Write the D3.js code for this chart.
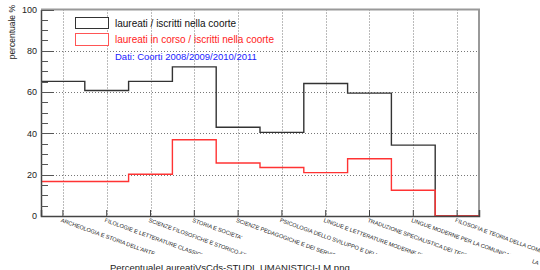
<!DOCTYPE html>
<html><head><meta charset="utf-8">
<script src="https://cdn.jsdelivr.net/npm/d3@7/dist/d3.min.js"></script>
<style>body{margin:0;background:#fff}svg{display:block;font-family:"Liberation Sans",Arial,sans-serif}</style>
</head><body>
<svg id="c" width="540" height="270"></svg>
<script>
const categories = [
  "ARCHEOLOGIA E STORIA DELL'ARTE",
  "FILOLOGIE E LETTERATURE CLASSICHE E MODERNE",
  "SCIENZE FILOSOFICHE E STORICO-FILOSOFICHE",
  "STORIA E SOCIETA'",
  "SCIENZE PEDAGOGICHE E DEI SERVIZI EDUCATIVI",
  "PSICOLOGIA DELLO SVILUPPO E DELL'EDUCAZIONE",
  "LINGUE E LETTERATURE MODERNE EUROPEE E AMERICANE",
  "TRADUZIONE SPECIALISTICA DEI TESTI",
  "LINGUE MODERNE PER LA COMUNICAZIONE INTERNAZIONALE",
  "FILOSOFIA E TEORIA DELLA COMUNICAZIONE"
];
const laureati = [65.2, 60.8, 65.2, 72.2, 43.0, 40.5, 64.2, 59.5, 34.3, 0];
const laureatiInCorso = [16.7, 16.7, 20.2, 36.9, 25.7, 23.5, 21.0, 27.7, 12.5, 0];
const yTicks = [0, 20, 40, 60, 80, 100];
const seriesNames = ["laureati / iscritti nella coorte", "laureati in corso / iscritti nella coorte"];
const infoText = "Dati: Coorti 2008/2009/2010/2011";
const yTitle = "percentuale %";
const fileTitle = "PercentualeLaureatiVsCds-STUDI_UMANISTICI-LM.png";

const svg = d3.select("#c");
const L = 41, R = 479, T = 9.5, B = 216;
const x = d3.scaleBand().domain(categories).range([L, R]).padding(0);
const y = d3.scaleLinear().domain([0, 100]).range([B, T]);

// grid
const grid = svg.append("g").attr("stroke", "#777").attr("stroke-width", 1).attr("stroke-dasharray", "1,2");
grid.selectAll("line.v").data(categories).join("line")
  .attr("x1", d => Math.round(x(d) + x.bandwidth() / 2) + 0.5).attr("x2", d => Math.round(x(d) + x.bandwidth() / 2) + 0.5)
  .attr("y1", T).attr("y2", B);
grid.selectAll("line.h").data(yTicks.filter(t => t > 0 && t < 100)).join("line")
  .attr("x1", L).attr("x2", R)
  .attr("y1", d => Math.round(y(d)) + 0.5).attr("y2", d => Math.round(y(d)) + 0.5);

// frame top/right
svg.append("line").attr("x1", L).attr("x2", R + 1).attr("y1", T).attr("y2", T).attr("stroke", "#999").attr("stroke-width", 2);
svg.append("line").attr("x1", R).attr("x2", R).attr("y1", T).attr("y2", B).attr("stroke", "#999").attr("stroke-width", 2);

// histogram step lines
function stepPts(vals) {
  const pts = categories.map((c, i) => [x(c), vals[i]]);
  pts.push([x(categories[categories.length - 1]) + x.bandwidth(), vals[vals.length - 1]]);
  return pts;
}
const line = d3.line().x(d => d[0]).y(d => y(d[1])).curve(d3.curveStepAfter);
svg.append("path").attr("d", line(stepPts(laureati))).attr("fill", "none").attr("stroke", "#333").attr("stroke-width", 1.4);
svg.append("path").attr("d", line(stepPts(laureatiInCorso))).attr("fill", "none").attr("stroke", "#ff3333").attr("stroke-width", 1.4);

// y axis (ticks inward)
const yAxis = svg.append("g").attr("transform", `translate(${L},0)`)
  .call(d3.axisLeft(y).tickValues(yTicks).tickSize(0).tickPadding(4).tickFormat(d3.format("d")));
yAxis.select(".domain").attr("stroke", "#444").attr("stroke-width", 1.5);
yAxis.selectAll("text").attr("font-size", 9).attr("fill", "#222").attr("font-family", "Liberation Sans, Arial, sans-serif");
const minor = d3.range(0, 101, 5);
svg.append("g").selectAll("line").data(minor).join("line")
  .attr("x1", L).attr("x2", d => L + (d % 20 === 0 ? 13 : 7))
  .attr("y1", d => Math.round(y(d)) + 0.5).attr("y2", d => Math.round(y(d)) + 0.5)
  .attr("stroke", "#555").attr("stroke-width", 1);

// x axis
const xAxis = svg.append("g").attr("transform", `translate(0,${B})`)
  .call(d3.axisBottom(x).tickSize(-6).tickFormat(""));
xAxis.select(".domain").attr("stroke", "#444").attr("stroke-width", 1.5);
xAxis.selectAll(".tick line").attr("stroke", "#444");

// rotated category labels, clipped
svg.append("clipPath").attr("id", "lc").append("rect").attr("x", 0).attr("y", 0).attr("width", 540).attr("height", 254);
svg.append("g").attr("clip-path", "url(#lc)").selectAll("text").data(categories).join("text")
  .attr("transform", d => `translate(${x(d) + x.bandwidth() / 2 - 1},${B + 2}) rotate(20)`)
  .attr("dominant-baseline", "hanging")
  .attr("font-size", 5.6).attr("fill", "#222")
  .text(d => d);
svg.append("text").attr("transform", "translate(533,259) rotate(20)").attr("dominant-baseline", "hanging")
  .attr("font-size", 5.6).attr("fill", "#222").text("LA");

// y title
svg.append("text").attr("transform", "translate(15,5) rotate(-90)").attr("text-anchor", "end")
  .attr("font-size", 8.5).attr("fill", "#222").text(yTitle);

// legend
const leg = svg.append("g");
leg.append("rect").attr("x", 75.5).attr("y", 17.5).attr("width", 33).attr("height", 11).attr("fill", "#fff").attr("stroke", "#333");
leg.append("rect").attr("x", 75.5).attr("y", 33.5).attr("width", 33).attr("height", 12).attr("fill", "#fff").attr("stroke", "#ff5555");
leg.append("text").attr("x", 115).attr("y", 26.5).attr("font-size", 10).attr("fill", "#111").text(seriesNames[0]);
leg.append("text").attr("x", 115).attr("y", 43).attr("font-size", 10).attr("fill", "#ff2222").text(seriesNames[1]);
leg.append("text").attr("x", 115).attr("y", 59.5).attr("font-size", 9.5).attr("fill", "#1a1aff").text(infoText);

// file title
svg.append("text").attr("x", 110).attr("y", 271).attr("font-size", 9.5).attr("fill", "#222").text(fileTitle);
</script>
</body></html>
